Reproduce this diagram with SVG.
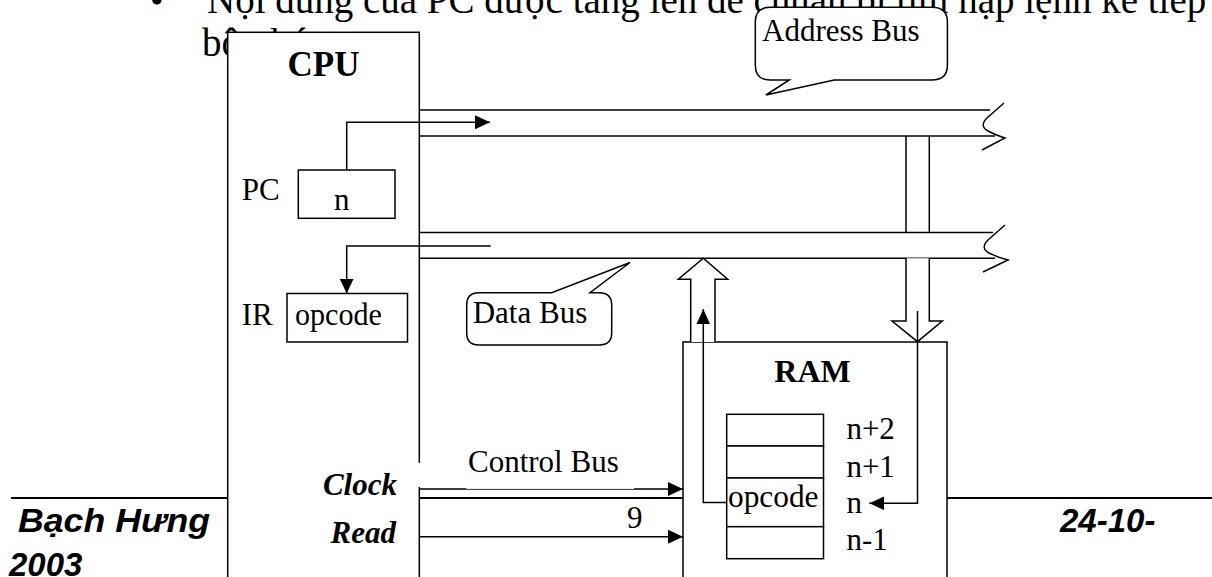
<svg xmlns="http://www.w3.org/2000/svg" width="1212" height="577" viewBox="0 0 1212 577">
<defs>
<marker id="ah" markerUnits="userSpaceOnUse" markerWidth="16" markerHeight="14" refX="15" refY="7" orient="auto"><path d="M0,0 L15,7 L0,14 z" fill="#000"/></marker>
<style>
.ln{fill:none;stroke:#000;stroke-width:1.5}
.box{fill:#fff;stroke:#000;stroke-width:1.5}
.blk{fill:#fff;stroke:#000;stroke-width:1.5;stroke-linejoin:miter}
.t{font-family:"Liberation Serif","Times New Roman",serif;font-size:31px;fill:#000}
.big{font-size:39px}
.b{font-weight:bold}
.bi{font-weight:bold;font-style:italic}
.f{font-family:"Liberation Sans",Arial,sans-serif;font-weight:bold;font-style:italic;font-size:33px;fill:#000}
</style>
</defs>
<rect x="0" y="0" width="1212" height="577" fill="#fff"/>
<g id="header">
<text class="t big" x="150" y="14">•</text>
<text class="t big" x="207" y="13">Nội dung của PC được tăng lên để chuẩn bị tìm nạp lệnh kế tiếp</text>
<text class="t big" x="202" y="56">bộ nhớ</text>
</g>
<g id="footer">
<line x1="11" y1="498" x2="1212" y2="498" stroke="#000" stroke-width="2"/>
<text class="f" x="18" y="531.7" textLength="192" lengthAdjust="spacingAndGlyphs">Bạch Hưng</text>
<text class="f" x="1060" y="531.7">24-10-</text>
<text class="f" x="9" y="576">2003</text>
</g>
<g id="cpu">
<rect class="box" x="227.7" y="32.3" width="191.6" height="600"/>
<text class="t b" x="323.5" y="76" text-anchor="middle" style="font-size:35px">CPU</text>
</g>
<g id="pc">
<text class="t" x="241.7" y="200">PC</text>
<rect class="box" x="298.3" y="170" width="96.7" height="48.3"/>
<text class="t" x="334" y="210">n</text>
</g>
<g id="ir">
<text class="t" x="241.7" y="325">IR</text>
<rect class="box" x="287" y="293.5" width="120.5" height="48.5"/>
<text class="t" x="295" y="325" textLength="87" lengthAdjust="spacingAndGlyphs">opcode</text>
</g>
<g id="cpu-signals">
<rect x="417.5" y="463" width="3.6" height="24" fill="#fff"/>
<text class="t bi" x="397" y="495" text-anchor="end">Clock</text>
<text class="t bi" x="396" y="543.3" text-anchor="end">Read</text>
</g>
<g id="ram">
<rect class="box" x="683" y="342" width="264" height="300"/>
<text class="t b" x="812.5" y="381.7" text-anchor="middle" style="font-size:32px">RAM</text>
<rect class="box" x="726.7" y="414.3" width="96.8" height="31.7"/>
<rect class="box" x="726.7" y="446" width="96.8" height="32"/>
<rect class="box" x="726.7" y="478" width="96.8" height="48.7"/>
<rect class="box" x="726.7" y="526.7" width="96.8" height="32"/>
<text class="t" x="728" y="506.7" textLength="90.5" lengthAdjust="spacingAndGlyphs">opcode</text>
<text class="t" x="846.4" y="439.3">n+2</text>
<text class="t" x="846.4" y="476.7">n+1</text>
<text class="t" x="846.4" y="513.3">n</text>
<text class="t" x="846.4" y="550">n-1</text>
</g>
<g id="address-bus">
<path class="ln" d="M419.3,110 H990 M419.3,136 H995"/>
<path class="ln" d="M1004,103 L987,118 Q979,126 988,131 Q998,136 1005,138 L982,150"/>
<path class="box" d="M770,7.3 H932 Q947.4,7.3 947.4,22 V65 Q947.4,80 932,80 H834.2 L765.9,95 L789.3,80 H770 Q755.3,80 755.3,65 V22 Q755.3,7.3 770,7.3 Z"/>
<text class="t" x="762" y="40.7">Address Bus</text>
</g>
<g id="data-bus">
<path class="ln" d="M419.3,232.5 H993 M419.3,258.3 H995"/>
<path class="ln" d="M1005,225 L988,240 Q980,248 989,253 Q999,258 1008,260 L983,272"/>
<path class="box" d="M479,292.7 H551.7 L630,262.5 L590,292.7 H599 Q611.7,292.7 611.7,305 V333 Q611.7,345 599,345 H479 Q466.7,345 466.7,333 V305 Q466.7,292.7 479,292.7 Z"/>
<text class="t" x="472.7" y="323.3">Data Bus</text>
</g>
<g id="connectors">
<path class="ln" d="M906,136 V232.5 M929.3,136 V232.5"/>
<path class="blk" d="M690.7,342 V279.3 H678.3 L703.3,258.3 L727.7,279.3 H715 V342"/>
<path class="blk" d="M906,258.3 V321 H892 L917.5,341.7 L942.3,321 H929.3 V258.3"/>
<path class="ln" d="M346.7,170 V122.3 H490" marker-end="url(#ah)"/>
<path class="ln" d="M490.7,246 H346.7 V293.5" marker-end="url(#ah)"/>
<path class="ln" d="M726.7,502.5 H703.3 V309.3" marker-end="url(#ah)"/>
<path class="ln" d="M917.5,311 V503.3 H869.4" marker-end="url(#ah)"/>
<path class="ln" d="M419.3,489 H466.5 M634,489 H683" marker-end="url(#ah)"/>
<path d="M466.5,489.4 H634" stroke="#000" stroke-width="0.8" fill="none"/>
<path class="ln" d="M419.3,536.7 H683" marker-end="url(#ah)"/>
<text class="t" x="468" y="471.7">Control Bus</text>
<text class="t" x="627" y="528.3">9</text>
</g>
</svg>
